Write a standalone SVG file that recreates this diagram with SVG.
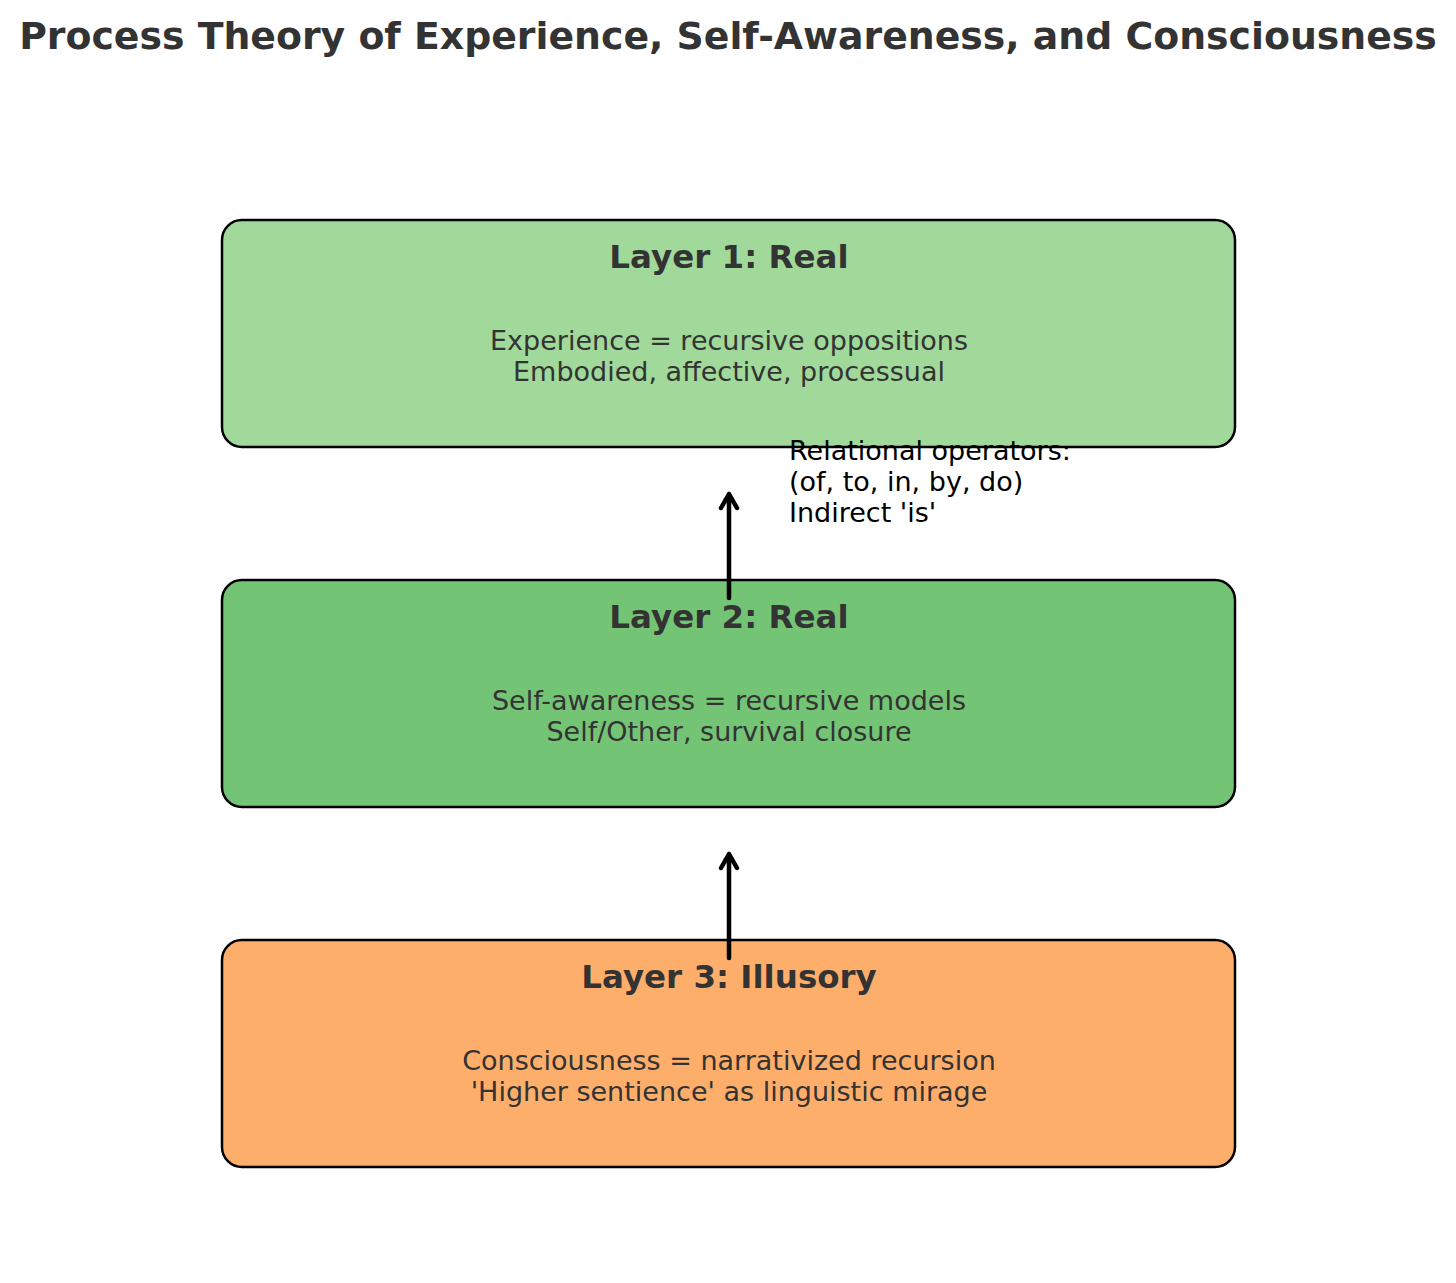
<svg xmlns="http://www.w3.org/2000/svg" width="1456" height="1283" viewBox="0 0 1456 1283">
<style>
.box{stroke:#000;stroke-width:2.5}
.t{font-family:"DejaVu Sans",sans-serif;fill:#333;text-anchor:middle}
.h{font-size:37.8px;font-weight:bold}
.lt{font-size:32.5px;font-weight:bold}
.b{font-size:27px}
.ann{font-family:"DejaVu Sans",sans-serif;font-size:27px;fill:#000}
.conn{stroke:#000;stroke-width:4.5;fill:none;stroke-linecap:round;stroke-linejoin:round}
</style>
<rect width="1456" height="1283" fill="#fff"/>
<text class="t h" x="728" y="49">Process Theory of Experience, Self-Awareness, and Consciousness</text>
<g id="layer1">
<rect class="box" x="222" y="220" width="1013" height="227" rx="20" fill="#a1d99b"/>
<text class="t lt" x="729" y="268">Layer 1: Real</text>
<text class="t b" x="729" y="350">Experience = recursive oppositions</text>
<text class="t b" x="729" y="381">Embodied, affective, processual</text>
</g>
<g id="layer2">
<rect class="box" x="222" y="580" width="1013" height="227" rx="20" fill="#74c476"/>
<text class="t lt" x="729" y="628">Layer 2: Real</text>
<text class="t b" x="729" y="710">Self-awareness = recursive models</text>
<text class="t b" x="729" y="741">Self/Other, survival closure</text>
</g>
<g id="layer3">
<rect class="box" x="222" y="940" width="1013" height="227" rx="20" fill="#fdae6b"/>
<text class="t lt" x="729" y="988">Layer 3: Illusory</text>
<text class="t b" x="729" y="1070">Consciousness = narrativized recursion</text>
<text class="t b" x="729" y="1101">'Higher sentience' as linguistic mirage</text>
</g>
<g id="connectors">
<path class="conn" d="M729 598 L729 494 M721 508 L729 494 L737 508"/>
<path class="conn" d="M729 958 L729 854 M721 868 L729 854 L737 868"/>
</g>
<g id="annotation">
<text class="ann" x="789" y="460">Relational operators:</text>
<text class="ann" x="789" y="491">(of, to, in, by, do)</text>
<text class="ann" x="789" y="522">Indirect 'is'</text>
</g>
</svg>
